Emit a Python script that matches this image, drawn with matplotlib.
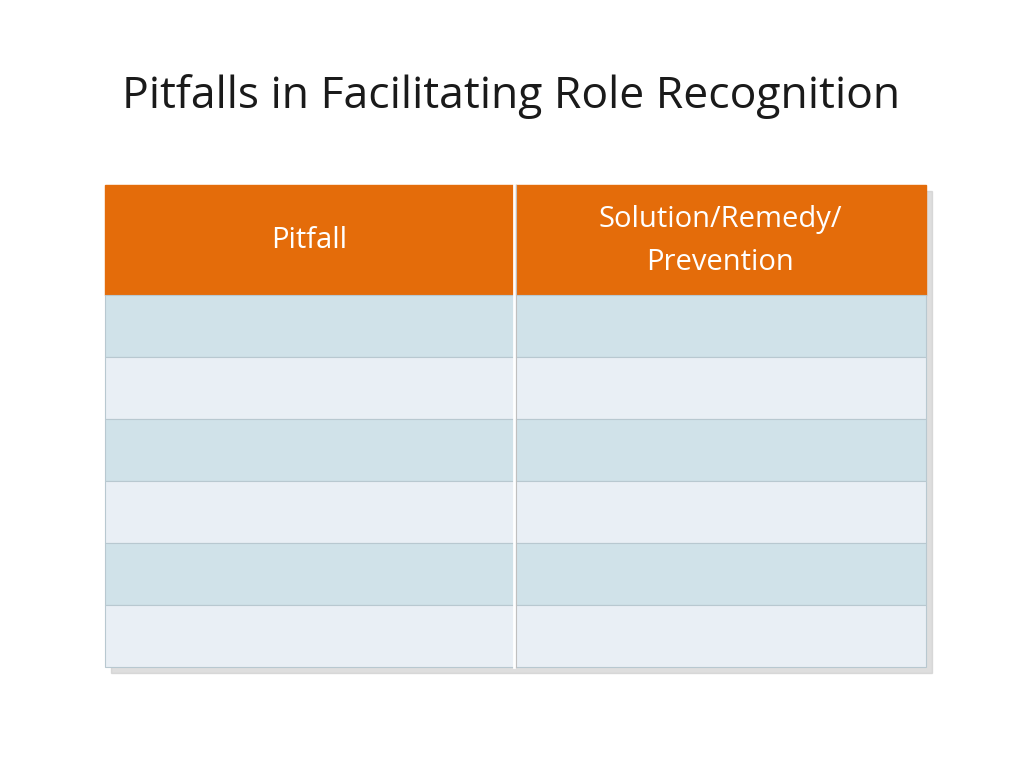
import matplotlib
matplotlib.use('Agg')
import matplotlib.pyplot as plt
from matplotlib.patches import Rectangle

TITLE = 'Pitfalls in Facilitating Role Recognition'
HEADERS = ['Pitfall', 'Solution/Remedy/\nPrevention']
N_ROWS = 6

HEADER_COLOR = '#E46C0A'
ROW_COLORS = ['#D0E2E9', '#E9EFF5']

fig = plt.figure(figsize=(10.24, 7.68), dpi=100)
ax = fig.add_axes([0, 0, 1, 1])
ax.set_xlim(0, 1024)
ax.set_ylim(768, 0)
ax.axis('off')

ax.text(122, 97, TITLE, fontsize=32, family='Open Sans', va='center', ha='left', color='#1a1a1a')

left, right, mid = 105, 926, 514
top, head_bot = 185, 295
row_h = 62

# shadow
ax.add_patch(Rectangle((left + 6, top + 6), right - left, head_bot - top + N_ROWS * row_h,
                       color='#c8c8c8', alpha=0.6, zorder=0))

ax.add_patch(Rectangle((left, top), right - left, head_bot - top, color=HEADER_COLOR, zorder=1))
for i in range(N_ROWS):
    y = head_bot + i * row_h
    ax.add_patch(Rectangle((left, y), right - left, row_h, facecolor=ROW_COLORS[i % 2],
                           edgecolor='#b8c8d0', lw=0.8, zorder=1))
ax.plot([mid, mid], [top, head_bot + N_ROWS * row_h], color='white', lw=2, zorder=2)
ax.plot([mid + 1.5, mid + 1.5], [top, head_bot + N_ROWS * row_h], color='#c0c0c0', lw=0.8, zorder=2)

centers = [(left + mid) / 2, (mid + right) / 2]
for cx, h in zip(centers, HEADERS):
    ax.text(cx, 241, h, fontsize=21, family='Open Sans', color='white', ha='center', va='center',
            linespacing=1.65)

fig.savefig('out.png', dpi=100)
